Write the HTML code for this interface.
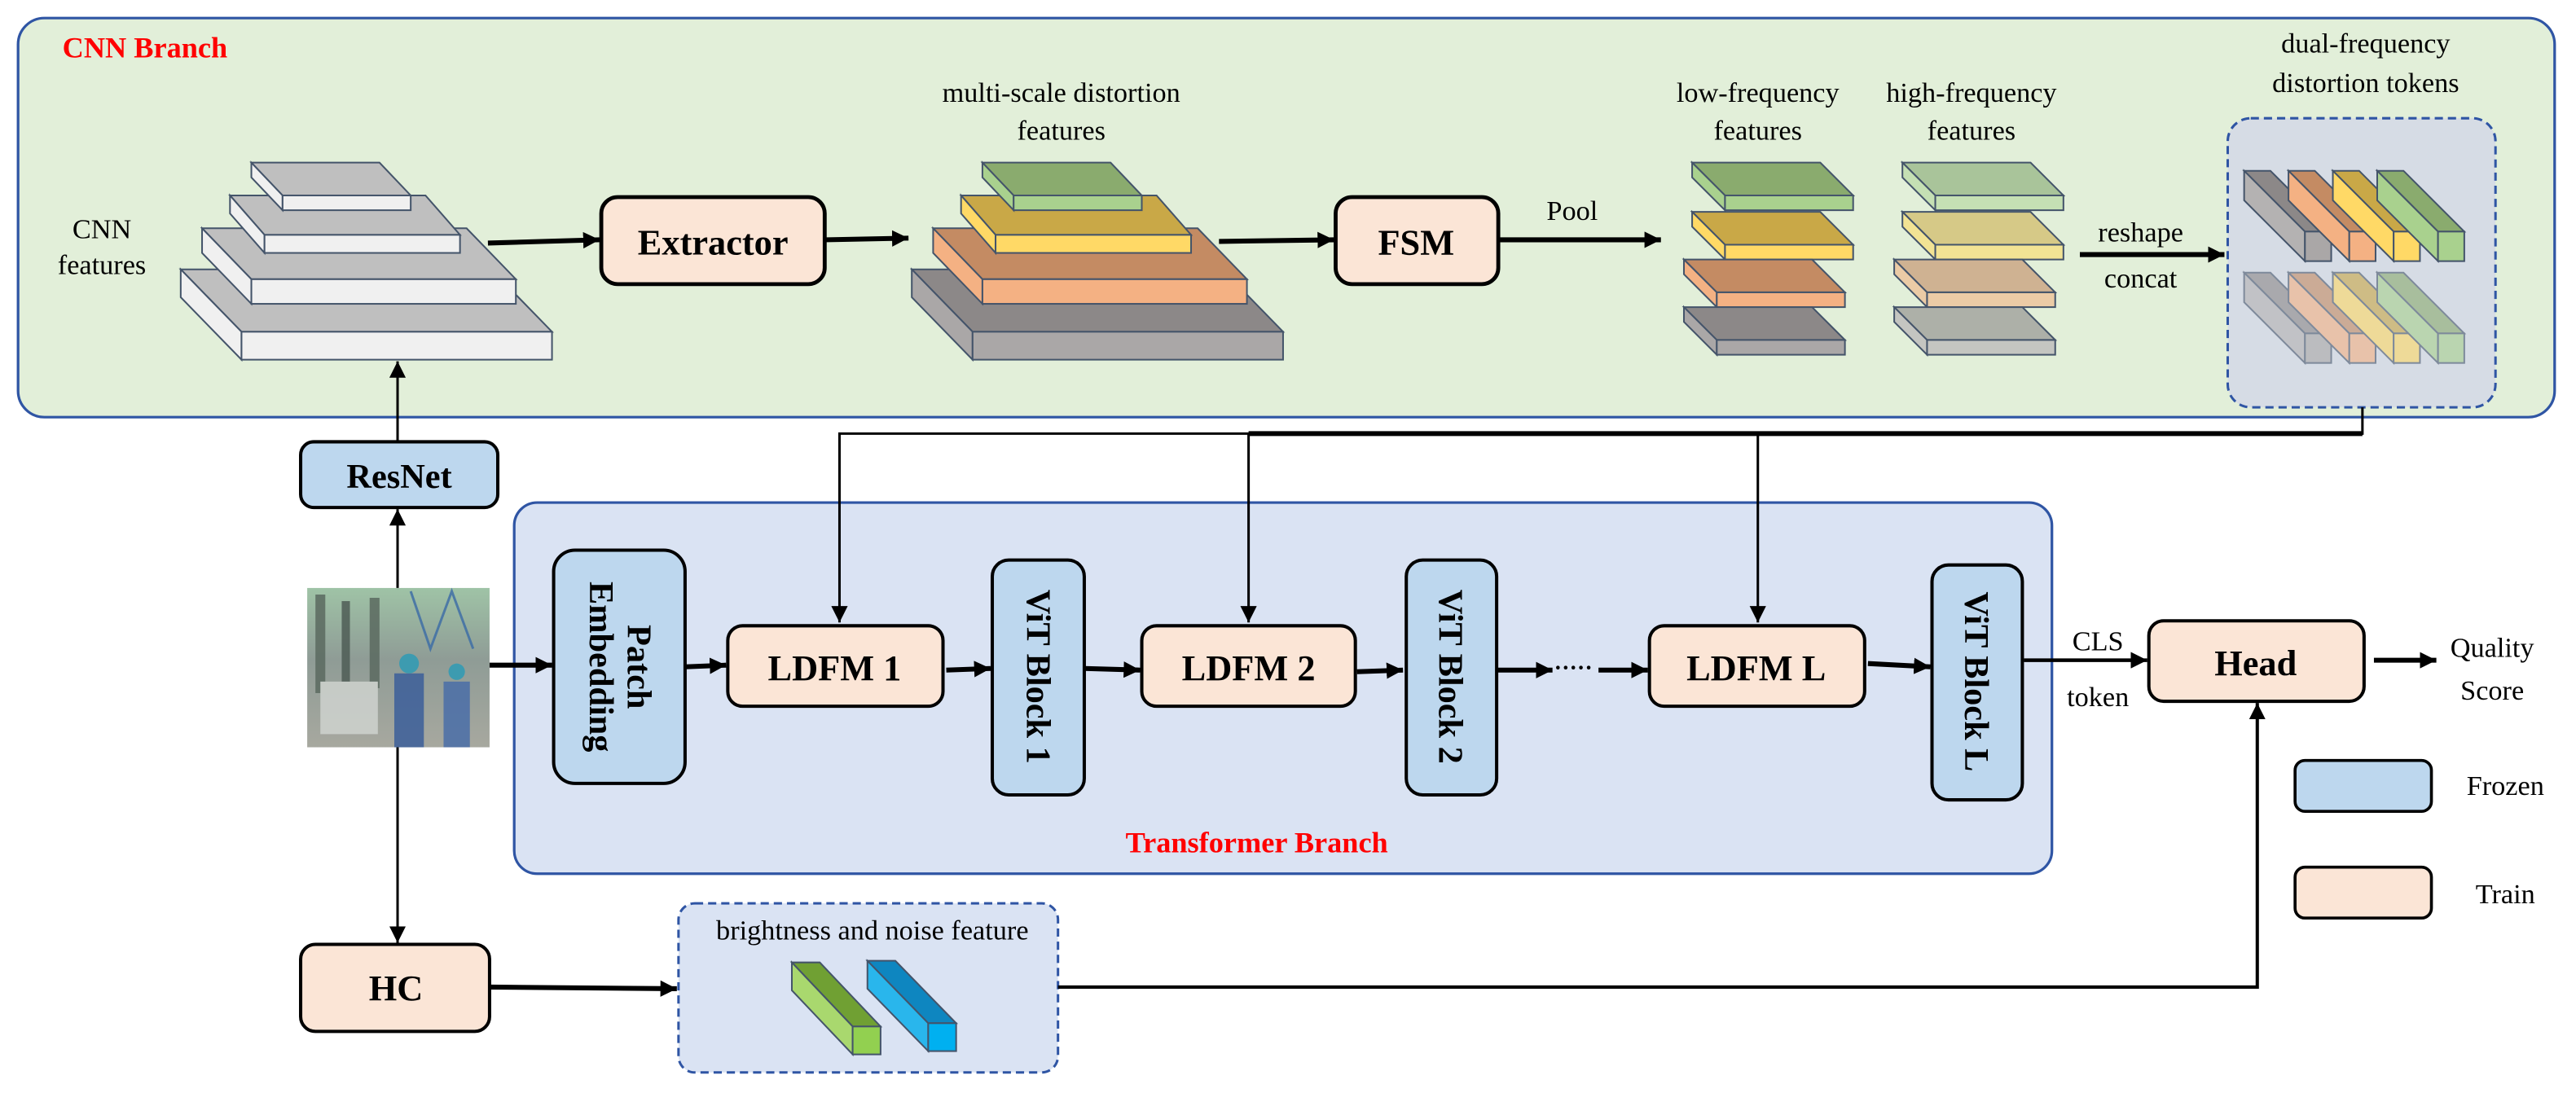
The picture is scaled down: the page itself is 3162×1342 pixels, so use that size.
<!DOCTYPE html>
<html><head><meta charset="utf-8"><style>
html,body{margin:0;padding:0;background:#fff;}
svg{display:block;}
svg text{font-family:"Liberation Serif","DejaVu Serif","Times New Roman",serif !important;}
.b{font-weight:bold;}
</style></head><body>
<svg width="3162" height="1342" viewBox="0 0 1568 665.5" preserveAspectRatio="none" xmlns="http://www.w3.org/2000/svg">
<defs>
<marker id="a" markerUnits="userSpaceOnUse" markerWidth="10" markerHeight="10" viewBox="0 0 10 10" refX="10" refY="5" orient="auto"><path d="M0,0 L10,5 L0,10 z" fill="#000"/></marker>
<linearGradient id="img" x1="0" y1="0" x2="0" y2="1"><stop offset="0" stop-color="#9fc3a6"/><stop offset="0.45" stop-color="#8f9c96"/><stop offset="1" stop-color="#a7a89f"/></linearGradient>
</defs>
<rect width="1568" height="665.5" fill="#fff"/>

<rect x="11" y="11" width="1544" height="243" rx="16" fill="#e2efd9" stroke="#2f55a4" stroke-width="1.6"/>
<text x="38" y="35" class="b" font-size="18" fill="#ff0000">CNN Branch</text>
<text x="62" y="145" font-size="17" text-anchor="middle">CNN</text>
<text x="62" y="167" font-size="17" text-anchor="middle">features</text>

<g stroke="#44546a" stroke-width="1">
<polygon points="110,164 299,164 336,202 147,202" fill="#bfbfbf"/><polygon points="110,164 147,202 147,219 110,181" fill="#f0f0f0"/><rect x="147" y="202" width="189" height="17" fill="#f0f0f0"/>
<polygon points="123,139 284,139 314,170 153,170" fill="#bfbfbf"/><polygon points="123,139 153,170 153,185 123,154" fill="#f0f0f0"/><rect x="153" y="170" width="161" height="15" fill="#f0f0f0"/>
<polygon points="140,119 259,119 280,143 161,143" fill="#bfbfbf"/><polygon points="140,119 161,143 161,154 140,130" fill="#f0f0f0"/><rect x="161" y="143" width="119" height="11" fill="#f0f0f0"/>
<polygon points="153,99 231,99 250,119 172,119" fill="#bfbfbf"/><polygon points="153,99 172,119 172,128 153,108" fill="#f0f0f0"/><rect x="172" y="119" width="78" height="9" fill="#f0f0f0"/>
</g>

<line x1="297" y1="148" x2="365" y2="146" stroke="#000" stroke-width="3" marker-end="url(#a)"/>
<rect x="366" y="120" width="136" height="53" rx="10" fill="#fbe5d6" stroke="#000" stroke-width="2.4"/>
<text x="434" y="155" class="b" font-size="22" text-anchor="middle">Extractor</text>
<line x1="503" y1="146" x2="553" y2="145" stroke="#000" stroke-width="3" marker-end="url(#a)"/>

<text x="646" y="62" font-size="17" text-anchor="middle">multi-scale distortion</text>
<text x="646" y="85" font-size="17" text-anchor="middle">features</text>
<g stroke="#44546a" stroke-width="1">
<polygon points="555,164 744,164 781,202 592,202" fill="#8c8888"/><polygon points="555,164 592,202 592,219 555,181" fill="#aaa7a7"/><rect x="592" y="202" width="189" height="17" fill="#aaa7a7"/>
<polygon points="568,139 729,139 759,170 598,170" fill="#c48b63"/><polygon points="568,139 598,170 598,185 568,154" fill="#f4b183"/><rect x="598" y="170" width="161" height="15" fill="#f4b183"/>
<polygon points="585,119 704,119 725,143 606,143" fill="#c9a847"/><polygon points="585,119 606,143 606,154 585,130" fill="#ffd966"/><rect x="606" y="143" width="119" height="11" fill="#ffd966"/>
<polygon points="598,99 676,99 695,119 617,119" fill="#8aab6e"/><polygon points="598,99 617,119 617,128 598,108" fill="#a9d18e"/><rect x="617" y="119" width="78" height="9" fill="#a9d18e"/>
</g>

<line x1="742" y1="147" x2="812" y2="146" stroke="#000" stroke-width="3" marker-end="url(#a)"/>
<rect x="813" y="120" width="99" height="53" rx="10" fill="#fbe5d6" stroke="#000" stroke-width="2.4"/>
<text x="862" y="155" class="b" font-size="22" text-anchor="middle">FSM</text>
<text x="957" y="134" font-size="17" text-anchor="middle">Pool</text>
<line x1="913" y1="146" x2="1011" y2="146" stroke="#000" stroke-width="3" marker-end="url(#a)"/>

<text x="1070" y="62" font-size="17" text-anchor="middle">low-frequency</text>
<text x="1070" y="85" font-size="17" text-anchor="middle">features</text>
<text x="1200" y="62" font-size="17" text-anchor="middle">high-frequency</text>
<text x="1200" y="85" font-size="17" text-anchor="middle">features</text>

<g stroke="#44546a" stroke-width="1">
<polygon points="1030,99 1108,99 1128,119 1050,119" fill="#8aab6e"/><polygon points="1030,99 1050,119 1050,128 1030,108" fill="#a9d18e"/><rect x="1050" y="119" width="78" height="9" fill="#a9d18e"/>
<polygon points="1030,129 1108,129 1128,149 1050,149" fill="#c9a847"/><polygon points="1030,129 1050,149 1050,158 1030,138" fill="#ffd966"/><rect x="1050" y="149" width="78" height="9" fill="#ffd966"/>
<polygon points="1025,158 1103,158 1123,178 1045,178" fill="#c48b63"/><polygon points="1025,158 1045,178 1045,187 1025,167" fill="#f4b183"/><rect x="1045" y="178" width="78" height="9" fill="#f4b183"/>
<polygon points="1025,187 1103,187 1123,207 1045,207" fill="#8c8888"/><polygon points="1025,187 1045,207 1045,216 1025,196" fill="#aaa7a7"/><rect x="1045" y="207" width="78" height="9" fill="#aaa7a7"/>
</g>
<g stroke="#44546a" stroke-width="1" transform="translate(128,0)">
<polygon points="1030,99 1108,99 1128,119 1050,119" fill="#a9c49a"/><polygon points="1030,99 1050,119 1050,128 1030,108" fill="#c5e0b4"/><rect x="1050" y="119" width="78" height="9" fill="#c5e0b4"/>
<polygon points="1030,129 1108,129 1128,149 1050,149" fill="#d6c987"/><polygon points="1030,129 1050,149 1050,158 1030,138" fill="#f2e394"/><rect x="1050" y="149" width="78" height="9" fill="#f2e394"/>
<polygon points="1025,158 1103,158 1123,178 1045,178" fill="#cfb292"/><polygon points="1025,158 1045,178 1045,187 1025,167" fill="#ebcba6"/><rect x="1045" y="178" width="78" height="9" fill="#ebcba6"/>
<polygon points="1025,187 1103,187 1123,207 1045,207" fill="#adb0a8"/><polygon points="1025,187 1045,207 1045,216 1025,196" fill="#c4c5c1"/><rect x="1045" y="207" width="78" height="9" fill="#c4c5c1"/>
</g>

<text x="1303" y="147" font-size="17" text-anchor="middle">reshape</text>
<text x="1303" y="175" font-size="17" text-anchor="middle">concat</text>
<line x1="1266" y1="155" x2="1354" y2="155" stroke="#000" stroke-width="3" marker-end="url(#a)"/>

<text x="1440" y="32" font-size="17" text-anchor="middle">dual-frequency</text>
<text x="1440" y="56" font-size="17" text-anchor="middle">distortion tokens</text>
<rect x="1356" y="72" width="163" height="176" rx="14" fill="#d6dce5" stroke="#2f55a4" stroke-width="1.5" stroke-dasharray="5,3"/>

<g stroke="#44546a" stroke-width="1">
<g transform="translate(1366,0)"><polygon points="0,104 16,104 53,141 37,141" fill="#8c8888"/><polygon points="0,104 37,141 37,159 0,122" fill="#b4b2b2"/><rect x="37" y="141" width="16" height="18" fill="#aaa7a7"/></g>
<g transform="translate(1393,0)"><polygon points="0,104 16,104 53,141 37,141" fill="#c48b63"/><polygon points="0,104 37,141 37,159 0,122" fill="#f4b183"/><rect x="37" y="141" width="16" height="18" fill="#f4b183"/></g>
<g transform="translate(1420,0)"><polygon points="0,104 16,104 53,141 37,141" fill="#c9a847"/><polygon points="0,104 37,141 37,159 0,122" fill="#ffd966"/><rect x="37" y="141" width="16" height="18" fill="#ffd966"/></g>
<g transform="translate(1447,0)"><polygon points="0,104 16,104 53,141 37,141" fill="#8aab6e"/><polygon points="0,104 37,141 37,159 0,122" fill="#a9d18e"/><rect x="37" y="141" width="16" height="18" fill="#a9d18e"/></g>
</g>
<g stroke="#44546a" stroke-width="1" opacity="0.6">
<g transform="translate(1366,62)"><polygon points="0,104 16,104 53,141 37,141" fill="#8c8888"/><polygon points="0,104 37,141 37,159 0,122" fill="#b4b2b2"/><rect x="37" y="141" width="16" height="18" fill="#aaa7a7"/></g>
<g transform="translate(1393,62)"><polygon points="0,104 16,104 53,141 37,141" fill="#c48b63"/><polygon points="0,104 37,141 37,159 0,122" fill="#f4b183"/><rect x="37" y="141" width="16" height="18" fill="#f4b183"/></g>
<g transform="translate(1420,62)"><polygon points="0,104 16,104 53,141 37,141" fill="#c9a847"/><polygon points="0,104 37,141 37,159 0,122" fill="#ffd966"/><rect x="37" y="141" width="16" height="18" fill="#ffd966"/></g>
<g transform="translate(1447,62)"><polygon points="0,104 16,104 53,141 37,141" fill="#8aab6e"/><polygon points="0,104 37,141 37,159 0,122" fill="#a9d18e"/><rect x="37" y="141" width="16" height="18" fill="#a9d18e"/></g>
</g>

<rect x="313" y="306" width="936" height="226" rx="14" fill="#dae3f3" stroke="#2f55a4" stroke-width="1.6"/>
<text x="765" y="519" class="b" font-size="18" fill="#ff0000" text-anchor="middle">Transformer Branch</text>

<polyline points="1438,248 1438,264 511,264 511,379" fill="none" stroke="#000" stroke-width="1.5" marker-end="url(#a)"/>
<line x1="760" y1="264" x2="1438" y2="264" stroke="#000" stroke-width="3"/>
<line x1="760" y1="264" x2="760" y2="379" stroke="#000" stroke-width="1.5" marker-end="url(#a)"/>
<line x1="1070" y1="264" x2="1070" y2="379" stroke="#000" stroke-width="1.5" marker-end="url(#a)"/>

<rect x="187" y="358" width="111" height="97" fill="url(#img)"/>
<g opacity="0.85">
<rect x="192" y="362" width="6" height="60" fill="#5b6a60"/><rect x="208" y="366" width="5" height="55" fill="#4f5d56"/>
<rect x="225" y="364" width="6" height="55" fill="#5b6a60"/>
<polyline points="250,360 262,395 275,360 288,395" fill="none" stroke="#3f6fa6" stroke-width="1.5"/>
<rect x="195" y="415" width="35" height="32" fill="#cfd3cf"/>
<rect x="240" y="410" width="18" height="45" fill="#3c5f9a"/><circle cx="249" cy="404" r="6" fill="#2f9bb5"/>
<rect x="270" y="415" width="16" height="40" fill="#4a6ea8"/><circle cx="278" cy="409" r="5" fill="#2f9bb5"/>
</g>

<rect x="183" y="269" width="120" height="40" rx="8" fill="#bdd7ee" stroke="#000" stroke-width="2"/>
<text x="243" y="297" class="b" font-size="21" text-anchor="middle">ResNet</text>
<line x1="242" y1="358" x2="242" y2="310" stroke="#000" stroke-width="1.5" marker-end="url(#a)"/>
<line x1="242" y1="269" x2="242" y2="220" stroke="#000" stroke-width="1.5" marker-end="url(#a)"/>
<line x1="242" y1="455" x2="242" y2="574" stroke="#000" stroke-width="1.5" marker-end="url(#a)"/>

<line x1="298" y1="405" x2="336" y2="405" stroke="#000" stroke-width="3" marker-end="url(#a)"/>
<rect x="337" y="335" width="80" height="142" rx="13" fill="#bdd7ee" stroke="#000" stroke-width="2"/>
<g transform="translate(377,406) rotate(90)"><text x="0" y="-5" class="b" font-size="21" text-anchor="middle">Patch</text><text x="0" y="18" class="b" font-size="21" text-anchor="middle">Embedding</text></g>
<line x1="417" y1="406" x2="442" y2="405" stroke="#000" stroke-width="3" marker-end="url(#a)"/>

<rect x="443" y="381" width="131" height="49" rx="9" fill="#fbe5d6" stroke="#000" stroke-width="2"/>
<text x="508" y="414" class="b" font-size="22" text-anchor="middle">LDFM 1</text>
<line x1="576" y1="408" x2="603" y2="407" stroke="#000" stroke-width="3" marker-end="url(#a)"/>
<rect x="604" y="341" width="56" height="143" rx="10" fill="#bdd7ee" stroke="#000" stroke-width="2"/>
<g transform="translate(632,412) rotate(90)"><text x="0" y="7" class="b" font-size="21" text-anchor="middle">ViT Block 1</text></g>
<line x1="660" y1="407" x2="694" y2="408" stroke="#000" stroke-width="3" marker-end="url(#a)"/>

<rect x="695" y="381" width="130" height="49" rx="9" fill="#fbe5d6" stroke="#000" stroke-width="2"/>
<text x="760" y="414" class="b" font-size="22" text-anchor="middle">LDFM 2</text>
<line x1="826" y1="409" x2="854" y2="408" stroke="#000" stroke-width="3" marker-end="url(#a)"/>
<rect x="856" y="341" width="55" height="143" rx="10" fill="#bdd7ee" stroke="#000" stroke-width="2"/>
<g transform="translate(883,412) rotate(90)"><text x="0" y="7" class="b" font-size="21" text-anchor="middle">ViT Block 2</text></g>
<line x1="911" y1="408" x2="945" y2="408" stroke="#000" stroke-width="3" marker-end="url(#a)"/>
<text x="946" y="411" class="b" font-size="14">·····</text>
<line x1="973" y1="408" x2="1003" y2="408" stroke="#000" stroke-width="3" marker-end="url(#a)"/>

<rect x="1004" y="381" width="131" height="49" rx="9" fill="#fbe5d6" stroke="#000" stroke-width="2"/>
<text x="1069" y="414" class="b" font-size="22" text-anchor="middle">LDFM L</text>
<line x1="1137" y1="404" x2="1175" y2="406" stroke="#000" stroke-width="3" marker-end="url(#a)"/>
<rect x="1176" y="344" width="55" height="143" rx="10" fill="#bdd7ee" stroke="#000" stroke-width="2"/>
<g transform="translate(1203,415) rotate(90)"><text x="0" y="7" class="b" font-size="21" text-anchor="middle">ViT Block L</text></g>

<text x="1277" y="396" font-size="17" text-anchor="middle">CLS</text>
<text x="1277" y="430" font-size="17" text-anchor="middle">token</text>
<line x1="1232" y1="402" x2="1307" y2="402" stroke="#000" stroke-width="2.2" marker-end="url(#a)"/>
<rect x="1308" y="378" width="131" height="49" rx="9" fill="#fbe5d6" stroke="#000" stroke-width="2"/>
<text x="1373" y="411" class="b" font-size="22" text-anchor="middle">Head</text>
<line x1="1445" y1="402" x2="1483" y2="402" stroke="#000" stroke-width="3" marker-end="url(#a)"/>
<text x="1517" y="400" font-size="17" text-anchor="middle">Quality</text>
<text x="1517" y="426" font-size="17" text-anchor="middle">Score</text>

<rect x="1397" y="463" width="83" height="31" rx="6" fill="#bdd7ee" stroke="#000" stroke-width="1.8"/>
<text x="1525" y="484" font-size="17" text-anchor="middle">Frozen</text>
<rect x="1397" y="528" width="83" height="31" rx="6" fill="#fbe5d6" stroke="#000" stroke-width="1.8"/>
<text x="1525" y="550" font-size="17" text-anchor="middle">Train</text>

<rect x="183" y="575" width="115" height="53" rx="9" fill="#fbe5d6" stroke="#000" stroke-width="2"/>
<text x="241" y="609" class="b" font-size="22" text-anchor="middle">HC</text>
<line x1="298" y1="601" x2="412" y2="602" stroke="#000" stroke-width="3" marker-end="url(#a)"/>
<rect x="413" y="550" width="231" height="103" rx="10" fill="#dae3f3" stroke="#2f55a4" stroke-width="1.5" stroke-dasharray="5,3"/>
<text x="531" y="572" font-size="17" text-anchor="middle">brightness and noise feature</text>
<g stroke="#44546a" stroke-width="1">
<polygon points="482,586 499,586 536,625 519,625" fill="#70a033"/><polygon points="482,586 519,625 519,642 482,603" fill="#a9d86e"/><rect x="519" y="625" width="17" height="17" fill="#92d050"/>
<polygon points="528,585 545,585 582,623 565,623" fill="#0e86c0"/><polygon points="528,585 565,623 565,640 528,602" fill="#29b6ec"/><rect x="565" y="623" width="17" height="17" fill="#00b0f0"/>
</g>
<polyline points="644,601 1374,601 1374,428" fill="none" stroke="#000" stroke-width="2" marker-end="url(#a)"/>
</svg>
</body></html>
